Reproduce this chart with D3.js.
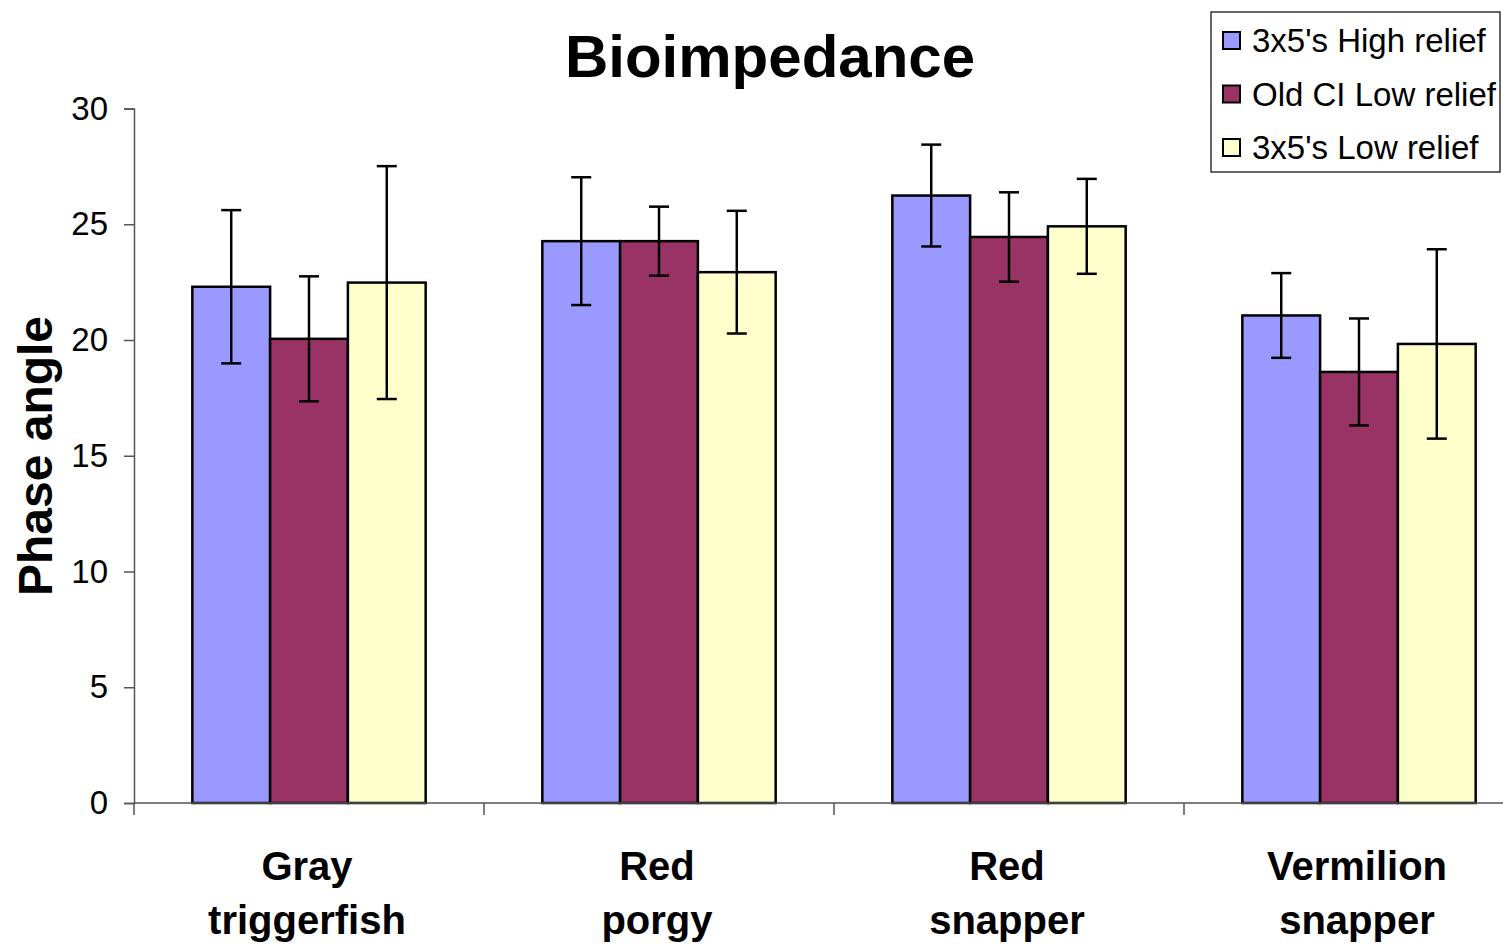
<!DOCTYPE html>
<html>
<head>
<meta charset="utf-8">
<script src="https://cdn.jsdelivr.net/npm/d3@7"></script>
<style>
  html, body { margin: 0; padding: 0; background: #fff; }
  svg { display: block; font-family: "Liberation Sans", Arial, sans-serif; }
</style>
</head>
<body>
<svg id="chart" width="1503" height="951"></svg>
<script>
// ---- Data ----
const categories = [["Gray", "triggerfish"], ["Red", "porgy"], ["Red", "snapper"], ["Vermilion", "snapper"]];
const seriesNames = ["3x5's High relief", "Old CI Low relief", "3x5's Low relief"];
const seriesColors = ["#9999FF", "#993366", "#FFFFCC"];
const highRelief = [22.3, 24.27, 26.24, 21.06];
const highReliefErr = [3.31, 2.76, 2.2, 1.83];
const oldCiLow = [20.05, 24.27, 24.45, 18.62];
const oldCiLowErr = [2.7, 1.49, 1.93, 2.31];
const lowRelief = [22.48, 22.93, 24.91, 19.83];
const lowReliefErr = [5.03, 2.65, 2.05, 4.09];
const yTicks = [0, 5, 10, 15, 20, 25, 30];
const titleText = "Bioimpedance";
const yTitle = "Phase angle";

const values = [highRelief, oldCiLow, lowRelief];
const errors = [highReliefErr, oldCiLowErr, lowReliefErr];

// ---- Layout ----
const svg = d3.select("#chart");
const plotLeft = 134, plotBottom = 803, plotTop = 108.5;
const catKeys = categories.map((c, i) => i);

const x0 = d3.scaleBand().domain(catKeys).range([plotLeft, plotLeft + 4 * 350]).padding(0);
const x1 = d3.scaleBand().domain([0, 1, 2]).range([0, x0.bandwidth()]).paddingInner(0).paddingOuter(0.75);
const y = d3.scaleLinear().domain([0, 30]).range([plotBottom, plotTop]);

// Title
svg.append("text")
  .attr("x", 770).attr("y", 77)
  .attr("text-anchor", "middle")
  .attr("font-size", 60).attr("font-weight", "bold")
  .text(titleText);

// Y axis title
svg.append("text")
  .attr("transform", `translate(52,${456}) rotate(-90)`)
  .attr("text-anchor", "middle")
  .attr("font-size", 48).attr("font-weight", "bold")
  .text(yTitle);

// Y axis
const yAxis = d3.axisLeft(y).tickValues(yTicks).tickSize(10).tickPadding(16);
const gy = svg.append("g").attr("transform", `translate(${plotLeft},0)`).call(yAxis);
gy.select(".domain").attr("stroke", "#555").attr("stroke-width", 1.5);
gy.selectAll(".tick line").attr("stroke", "#555").attr("stroke-width", 1.5);
gy.selectAll(".tick text").attr("font-size", 33).attr("fill", "#000")
  .attr("font-family", "Liberation Sans, Arial, sans-serif");

// Bars
const groups = svg.append("g").selectAll("g")
  .data(catKeys).join("g")
  .attr("transform", d => `translate(${x0(d)},0)`);

groups.selectAll("rect")
  .data(ci => values.map((s, si) => ({ si, v: s[ci] })))
  .join("rect")
  .attr("x", d => x1(d.si))
  .attr("y", d => y(d.v))
  .attr("width", x1.bandwidth())
  .attr("height", d => y(0) - y(d.v))
  .attr("fill", d => seriesColors[d.si])
  .attr("stroke", "#000").attr("stroke-width", 2.5);

// Error bars
const capW = 10;
groups.selectAll("g.err")
  .data(ci => values.map((s, si) => ({ si, v: s[ci], e: errors[si][ci] })))
  .join("g").attr("class", "err")
  .each(function(d) {
    const g = d3.select(this);
    const cx = x1(d.si) + x1.bandwidth() / 2;
    g.append("line").attr("x1", cx).attr("x2", cx)
      .attr("y1", y(d.v + d.e)).attr("y2", y(d.v - d.e));
    g.append("line").attr("x1", cx - capW).attr("x2", cx + capW)
      .attr("y1", y(d.v + d.e)).attr("y2", y(d.v + d.e));
    g.append("line").attr("x1", cx - capW).attr("x2", cx + capW)
      .attr("y1", y(d.v - d.e)).attr("y2", y(d.v - d.e));
    g.selectAll("line").attr("stroke", "#000").attr("stroke-width", 2.5);
  });

// X axis
const gx = svg.append("g");
gx.append("line").attr("x1", plotLeft).attr("x2", 1503).attr("y1", plotBottom).attr("y2", plotBottom)
  .attr("stroke", "#555").attr("stroke-width", 1.5);
gx.selectAll("line.tk").data(catKeys).join("line").attr("class", "tk")
  .attr("x1", d => x0(d)).attr("x2", d => x0(d))
  .attr("y1", plotBottom).attr("y2", plotBottom + 12)
  .attr("stroke", "#555").attr("stroke-width", 1.5);

// Category labels
const labels = gx.selectAll("text.cat").data(catKeys).join("text").attr("class", "cat")
  .attr("text-anchor", "middle")
  .attr("font-size", 40).attr("font-weight", "bold");
labels.each(function(d) {
  const t = d3.select(this);
  const cx = x0(d) + x0.bandwidth() / 2 - 2;
  categories[d].forEach((line, li) => {
    t.append("tspan").attr("x", cx).attr("y", 880 + li * 54).text(line);
  });
});

// Legend
const lg = svg.append("g");
lg.append("rect").attr("x", 1211).attr("y", 12).attr("width", 289).attr("height", 160)
  .attr("fill", "#fff").attr("stroke", "#000").attr("stroke-width", 1.2);
seriesNames.forEach((name, i) => {
  const cy = 41 + i * 53.5;
  lg.append("rect").attr("x", 1223).attr("y", cy - 9).attr("width", 17).attr("height", 17)
    .attr("fill", seriesColors[i]).attr("stroke", "#000").attr("stroke-width", 2);
  lg.append("text").attr("x", 1252).attr("y", cy + 11)
    .attr("font-size", 33).text(name);
});
</script>
</body>
</html>
